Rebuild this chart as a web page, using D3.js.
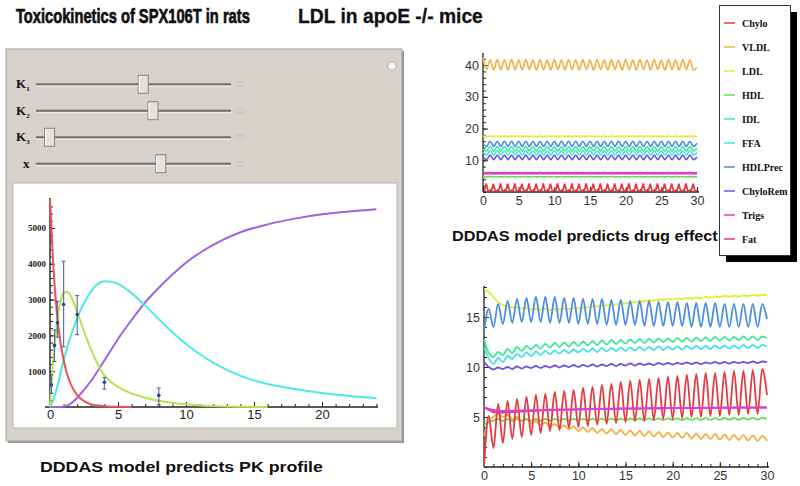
<!DOCTYPE html>
<html><head><meta charset="utf-8">
<script src="https://cdn.jsdelivr.net/npm/d3@7"></script>
<style>html,body{margin:0;padding:0;background:#fff;} svg{display:block;}</style>
</head><body>
<svg id="c" width="800" height="486"></svg>
<script>
// ---------------- DATA ----------------
// Left panel: PK profile
const pkTime   = [0, 0.25, 0.5, 0.75, 1, 1.25, 1.5, 2, 2.5, 3, 3.5, 4, 4.5, 5, 6, 7, 8, 9, 10, 11, 12, 14, 16, 18, 20, 22, 24];
const pkRed    = [5800, 3900, 2650, 1850, 1320, 930, 660, 330, 165, 80, 40, 20, 10, 5, 0, null, null, null, null, null, null, null, null, null, null, null, null];
const pkGreen  = [0, 1350, 2300, 2900, 3180, 3220, 3120, 2650, 2120, 1620, 1200, 880, 700, 560, 380, 260, 175, 115, 75, 45, 28, 8, 0, null, null, null, null];
const pkCyan   = [0, 200, 520, 900, 1300, 1650, 1950, 2480, 2900, 3220, 3430, 3510, 3500, 3440, 3180, 2830, 2450, 2090, 1760, 1480, 1240, 870, 640, 500, 390, 310, 250];
const pkPurple = [0, 0, 0, 0, 10, 40, 90, 260, 480, 720, 1000, 1300, 1600, 1900, 2430, 2920, 3330, 3700, 4030, 4300, 4530, 4880, 5100, 5260, 5380, 5460, 5520];
const pkObsTime = [0.1, 0.33, 0.55, 1, 2, 4, 8];
const pkObsMean = [620, 1720, 2350, 2860, 2580, 690, 330];
const pkObsLow  = [380, 1270, 1950, 1680, 2020, 500, 60];
const pkObsHigh = [900, 2150, 2950, 4070, 3110, 820, 530];
const pkXTicks = [0, 5, 10, 15, 20];
const pkYTicks = [1000, 2000, 3000, 4000, 5000];

const sliderNames  = ["K", "K", "K", "x"];
const sliderSubs   = ["1", "2", "3", ""];
const sliderValues = [0.55, 0.60, 0.07, 0.64];

// Legend series
const seriesNames = ["Chylo", "VLDL", "LDL", "HDL", "IDL", "FFA", "HDLPrec", "ChyloRem", "Trigs", "Fat"];

// Top-right chart (steady state), values at t = 0, 0.5, 1, ... 30
const topVLDL = [42.4,
 38.6,41.6, 38.5,41.7, 38.6,41.6, 38.5,41.7, 38.6,41.6,
 38.5,41.7, 38.6,41.6, 38.5,41.7, 38.6,41.6, 38.5,41.7,
 38.6,41.6, 38.5,41.7, 38.6,41.6, 38.5,41.7, 38.6,41.6,
 38.5,41.7, 38.6,41.6, 38.5,41.7, 38.6,41.6, 38.5,41.7,
 38.6,41.6, 38.5,41.7, 38.6,41.6, 38.5,41.7, 38.6,41.6,
 38.5,41.7, 38.6,41.6, 38.5,41.7, 38.6,41.6, 38.5,39.2];
const topLDL = [17.7,
 17.45,17.6, 17.45,17.6, 17.45,17.6, 17.45,17.6, 17.45,17.6,
 17.45,17.6, 17.45,17.6, 17.45,17.6, 17.45,17.6, 17.45,17.6,
 17.45,17.6, 17.45,17.6, 17.45,17.6, 17.45,17.6, 17.45,17.6,
 17.45,17.6, 17.45,17.6, 17.45,17.6, 17.45,17.6, 17.45,17.6,
 17.45,17.6, 17.45,17.6, 17.45,17.6, 17.45,17.6, 17.45,17.6,
 17.45,17.6, 17.45,17.6, 17.45,17.6, 17.45,17.6, 17.45,17.6];
const topHDLPrec = [15.2,
 14.4,16.0, 14.4,16.0, 14.4,16.0, 14.4,16.0, 14.4,16.0,
 14.4,16.0, 14.4,16.0, 14.4,16.0, 14.4,16.0, 14.4,16.0,
 14.4,16.0, 14.4,16.0, 14.4,16.0, 14.4,16.0, 14.4,16.0,
 14.4,16.0, 14.4,16.0, 14.4,16.0, 14.4,16.0, 14.4,16.0,
 14.4,16.0, 14.4,16.0, 14.4,16.0, 14.4,16.0, 14.4,16.0,
 14.4,16.0, 14.4,16.0, 14.4,16.0, 14.4,16.0, 14.4,15.4];
const topIDL = [13.6,
 12.9,14.3, 12.9,14.3, 12.9,14.3, 12.9,14.3, 12.9,14.3,
 12.9,14.3, 12.9,14.3, 12.9,14.3, 12.9,14.3, 12.9,14.3,
 12.9,14.3, 12.9,14.3, 12.9,14.3, 12.9,14.3, 12.9,14.3,
 12.9,14.3, 12.9,14.3, 12.9,14.3, 12.9,14.3, 12.9,14.3,
 12.9,14.3, 12.9,14.3, 12.9,14.3, 12.9,14.3, 12.9,14.3,
 12.9,14.3, 12.9,14.3, 12.9,14.3, 12.9,14.3, 12.9,13.8];
const topFFA = [12.4,
 11.7,13.0, 11.7,13.0, 11.7,13.0, 11.7,13.0, 11.7,13.0,
 11.7,13.0, 11.7,13.0, 11.7,13.0, 11.7,13.0, 11.7,13.0,
 11.7,13.0, 11.7,13.0, 11.7,13.0, 11.7,13.0, 11.7,13.0,
 11.7,13.0, 11.7,13.0, 11.7,13.0, 11.7,13.0, 11.7,13.0,
 11.7,13.0, 11.7,13.0, 11.7,13.0, 11.7,13.0, 11.7,13.0,
 11.7,13.0, 11.7,13.0, 11.7,13.0, 11.7,13.0, 11.7,12.5];
const topChyloRem = [11.0,
 10.2,11.6, 10.2,11.6, 10.2,11.6, 10.2,11.6, 10.2,11.6,
 10.2,11.6, 10.2,11.6, 10.2,11.6, 10.2,11.6, 10.2,11.6,
 10.2,11.6, 10.2,11.6, 10.2,11.6, 10.2,11.6, 10.2,11.6,
 10.2,11.6, 10.2,11.6, 10.2,11.6, 10.2,11.6, 10.2,11.6,
 10.2,11.6, 10.2,11.6, 10.2,11.6, 10.2,11.6, 10.2,11.6,
 10.2,11.6, 10.2,11.6, 10.2,11.6, 10.2,11.6, 10.2,11.0];
const topTrigs = [6.0,
 5.98,6.04, 5.98,6.04, 5.98,6.04, 5.98,6.04, 5.98,6.04,
 5.98,6.04, 5.98,6.04, 5.98,6.04, 5.98,6.04, 5.98,6.04,
 5.98,6.04, 5.98,6.04, 5.98,6.04, 5.98,6.04, 5.98,6.04,
 5.98,6.04, 5.98,6.04, 5.98,6.04, 5.98,6.04, 5.98,6.04,
 5.98,6.04, 5.98,6.04, 5.98,6.04, 5.98,6.04, 5.98,6.04,
 5.98,6.04, 5.98,6.04, 5.98,6.04, 5.98,6.04, 5.98,6.04];
const topFat = [5.8,
 5.76,5.82, 5.76,5.82, 5.76,5.82, 5.76,5.82, 5.76,5.82,
 5.76,5.82, 5.76,5.82, 5.76,5.82, 5.76,5.82, 5.76,5.82,
 5.76,5.82, 5.76,5.82, 5.76,5.82, 5.76,5.82, 5.76,5.82,
 5.76,5.82, 5.76,5.82, 5.76,5.82, 5.76,5.82, 5.76,5.82,
 5.76,5.82, 5.76,5.82, 5.76,5.82, 5.76,5.82, 5.76,5.82,
 5.76,5.82, 5.76,5.82, 5.76,5.82, 5.76,5.82, 5.76,5.82];
const topHDL = [4.7,
 4.76,4.86, 4.76,4.86, 4.76,4.86, 4.76,4.86, 4.76,4.86,
 4.76,4.86, 4.76,4.86, 4.76,4.86, 4.76,4.86, 4.76,4.86,
 4.76,4.86, 4.76,4.86, 4.76,4.86, 4.76,4.86, 4.76,4.86,
 4.76,4.86, 4.76,4.86, 4.76,4.86, 4.76,4.86, 4.76,4.86,
 4.76,4.86, 4.76,4.86, 4.76,4.86, 4.76,4.86, 4.76,4.86,
 4.76,4.86, 4.76,4.86, 4.76,4.86, 4.76,4.86, 4.76,4.86];
// Chylo spikes, one per day
const topChyloPeak = [2.7, 2.6, 2.7, 2.6, 2.7, 2.6, 2.7, 2.6, 2.7, 2.6, 2.7, 2.6, 2.7, 2.6, 2.7,
                      2.6, 2.7, 2.6, 2.7, 2.6, 2.7, 2.6, 2.7, 2.6, 2.7, 2.6, 2.7, 2.6, 2.7, 2.6];
const topChyloBase = [0.35, 0.4, 0.35, 0.4, 0.35, 0.4, 0.35, 0.4, 0.35, 0.4, 0.35, 0.4, 0.35, 0.4, 0.35,
                      0.4, 0.35, 0.4, 0.35, 0.4, 0.35, 0.4, 0.35, 0.4, 0.35, 0.4, 0.35, 0.4, 0.35, 0.4];

// Bottom-right chart (drug effect), values at t = 0, 0.5, 1, ... 30
const botChylo = [0.0,
 5.1,1.9, 6.3,2.4, 6.6,2.8, 6.8,3.0, 7.0,3.2,
 7.2,3.4, 7.3,3.6, 7.5,3.7, 7.6,3.9, 7.7,4.0,
 7.9,4.1, 8.0,4.2, 8.2,4.3, 8.3,4.4, 8.5,4.5,
 8.6,4.6, 8.7,4.6, 8.8,4.7, 8.9,4.8, 9.0,4.8,
 9.1,4.9, 9.2,5.0, 9.3,5.0, 9.4,5.1, 9.4,5.1,
 9.5,5.2, 9.6,5.2, 9.6,5.3, 9.7,5.3, 9.8,7.2];
const botHDLPrec = [13.6,
 15.8,14.0, 16.3,14.3, 16.6,14.4, 16.8,14.5, 16.9,14.5,
 17.0,14.5, 17.0,14.4, 17.0,14.4, 16.9,14.4, 16.9,14.3,
 16.8,14.3, 16.8,14.3, 16.8,14.2, 16.7,14.2, 16.7,14.2,
 16.6,14.2, 16.6,14.1, 16.6,14.1, 16.5,14.1, 16.5,14.1,
 16.5,14.1, 16.4,14.0, 16.4,14.0, 16.4,14.0, 16.4,14.0,
 16.3,14.0, 16.3,14.0, 16.3,14.0, 16.3,14.0, 16.3,14.8];
const botLDL = [17.8, 17.5, 17.0, 16.5, 16.2, 16.1, 15.95, 16.0, 15.85, 15.9,
 15.75, 15.8, 15.7, 15.8, 15.7, 15.8, 15.75, 15.85, 15.8, 15.9,
 15.85, 15.95, 15.95, 16.05, 16.05, 16.15, 16.15, 16.25, 16.25, 16.35,
 16.35, 16.45, 16.45, 16.55, 16.55, 16.65, 16.65, 16.75, 16.7, 16.8,
 16.75, 16.85, 16.8, 16.9, 16.85, 16.95, 16.9, 17.0, 16.95, 17.05,
 17.0, 17.1, 17.05, 17.1, 17.05, 17.15, 17.1, 17.2, 17.15, 17.2,
 17.2];
const botIDL = [12.8, 11.4,
 11.0, 11.5, 11.2, 11.8, 11.4, 12.0, 11.6, 12.1, 11.75, 12.2,
 11.85, 12.3, 11.95, 12.4, 12.0, 12.45, 12.05, 12.5, 12.1, 12.55,
 12.15, 12.6, 12.2, 12.65, 12.25, 12.7, 12.3, 12.7, 12.35, 12.75,
 12.4, 12.8, 12.4, 12.8, 12.45, 12.85, 12.5, 12.85, 12.5, 12.9,
 12.55, 12.9, 12.55, 12.95, 12.6, 12.95, 12.6, 13.0, 12.65, 13.0,
 12.65, 13.0, 12.7, 13.05, 12.7, 13.05, 12.7, 13.05, 12.9];
const botFFA = [12.0, 10.9,
 10.3, 10.9, 10.5, 11.1, 10.8, 11.3, 11.0, 11.45, 11.1, 11.55,
 11.2, 11.6, 11.3, 11.65, 11.35, 11.7, 11.4, 11.75, 11.45, 11.8,
 11.5, 11.85, 11.5, 11.9, 11.55, 11.9, 11.6, 11.95, 11.6, 11.95,
 11.65, 12.0, 11.65, 12.0, 11.7, 12.05, 11.7, 12.05, 11.75, 12.05,
 11.75, 12.1, 11.8, 12.1, 11.8, 12.1, 11.8, 12.15, 11.85, 12.15,
 11.85, 12.15, 11.85, 12.2, 11.9, 12.2, 11.9, 12.2, 12.05];
const botChyloRem = [10.5, 10.0,
 9.75, 9.95, 9.8, 10.0, 9.8, 10.05, 9.85, 10.05, 9.9, 10.1,
 9.9, 10.1, 9.95, 10.15, 9.95, 10.15, 10.0, 10.2, 10.0, 10.2,
 10.05, 10.25, 10.05, 10.25, 10.1, 10.3, 10.1, 10.3, 10.15, 10.35,
 10.15, 10.35, 10.2, 10.35, 10.2, 10.4, 10.25, 10.4, 10.25, 10.4,
 10.3, 10.45, 10.3, 10.45, 10.3, 10.45, 10.35, 10.5, 10.35, 10.5,
 10.35, 10.5, 10.4, 10.5, 10.4, 10.55, 10.4, 10.55, 10.5];
const botTrigs = [6.0, 5.8, 5.7, 5.65, 5.6, 5.6, 5.62, 5.63, 5.65, 5.66,
 5.68, 5.69, 5.7, 5.71, 5.72, 5.73, 5.74, 5.75, 5.76, 5.77,
 5.78, 5.78, 5.79, 5.8, 5.8, 5.81, 5.82, 5.82, 5.83, 5.84,
 5.84, 5.85, 5.85, 5.86, 5.86, 5.87, 5.87, 5.88, 5.88, 5.89,
 5.89, 5.9, 5.9, 5.9, 5.91, 5.91, 5.91, 5.92, 5.92, 5.92,
 5.93, 5.93, 5.93, 5.94, 5.94, 5.94, 5.94, 5.95, 5.95, 5.95,
 5.95];
const botFat = [6.0, 5.7, 5.5, 5.45, 5.45, 5.47, 5.5, 5.52, 5.55, 5.57,
 5.6, 5.62, 5.64, 5.66, 5.68, 5.7, 5.71, 5.72, 5.74, 5.75,
 5.76, 5.77, 5.78, 5.79, 5.8, 5.8, 5.81, 5.82, 5.82, 5.83,
 5.84, 5.84, 5.85, 5.85, 5.86, 5.86, 5.87, 5.87, 5.88, 5.88,
 5.89, 5.89, 5.9, 5.9, 5.9, 5.91, 5.91, 5.91, 5.92, 5.92,
 5.92, 5.93, 5.93, 5.93, 5.94, 5.94, 5.94, 5.94, 5.95, 5.95,
 5.95];
const botHDL = [4.2, 4.5, 4.65, 4.8, 4.6, 4.78, 4.6, 4.78, 4.62, 4.8,
 4.62, 4.8, 4.63, 4.8, 4.63, 4.81, 4.64, 4.81, 4.64, 4.82,
 4.65, 4.82, 4.65, 4.83, 4.66, 4.83, 4.66, 4.84, 4.67, 4.84,
 4.67, 4.85, 4.68, 4.85, 4.68, 4.86, 4.69, 4.86, 4.69, 4.87,
 4.7, 4.87, 4.7, 4.88, 4.71, 4.88, 4.71, 4.89, 4.72, 4.89,
 4.72, 4.9, 4.73, 4.9, 4.73, 4.9, 4.74, 4.91, 4.74, 4.91,
 4.8];
const botVLDL = [3.0, 4.6, 5.0, 5.35, 5.0, 5.2, 4.8, 5.0, 4.6, 4.8,
 4.35, 4.6, 4.2, 4.45, 4.05, 4.3, 3.9, 4.15, 3.75, 4.05,
 3.6, 3.95, 3.5, 3.9, 3.4, 3.8, 3.35, 3.75, 3.3, 3.7,
 3.2, 3.65, 3.15, 3.6, 3.1, 3.55, 3.05, 3.5, 3.0, 3.45,
 2.95, 3.4, 2.9, 3.4, 2.85, 3.35, 2.8, 3.3, 2.8, 3.3,
 2.75, 3.25, 2.7, 3.2, 2.7, 3.2, 2.65, 3.15, 2.6, 3.1,
 2.6];

// ---------------- STYLE ----------------
const colors = {
  Chylo: "#e8383e", VLDL: "#f0b246", LDL: "#e2ec3a", HDL: "#66dc55", IDL: "#3fe896",
  FFA: "#46e2e6", HDLPrec: "#4a8de0", ChyloRem: "#6658e0", Trigs: "#d83ed8", Fat: "#e83c7a"
};
const pkColors = { red: "#e8525a", green: "#b6e24e", cyan: "#4ee8ea", purple: "#a062e2", obs: "#4a5aa6" };

const svg = d3.select("#c");
const SANS = "'Liberation Sans', Arial, sans-serif";
const SERIF = "'Liberation Serif', 'Times New Roman', serif";

// ---------------- TITLES ----------------
function title(txt, x, y, size, len, heavy) {
  const t = svg.append("text").attr("x", 0).attr("y", 0).text(txt)
    .attr("font-family", SANS).attr("font-weight", "bold").attr("font-size", size)
    .attr("fill", "#111");
  if (heavy) t.attr("stroke", "#111").attr("stroke-width", heavy);
  const natural = t.node().getComputedTextLength();
  t.attr("transform", `translate(${x},${y}) scale(${len / natural},1)`);
}
title("Toxicokinetics of SPX106T in rats", 16, 23, 20, 234, 0.7);
title("LDL in apoE -/- mice", 298, 23, 20, 185, 0.3);
title("DDDAS model predicts PK profile", 40, 472, 15, 283, 0);
title("DDDAS model predicts drug effect", 452, 241, 14, 266, 0);

// ---------------- LEFT PANEL ----------------
svg.append("rect").attr("x", 8).attr("y", 51).attr("width", 396).attr("height", 392).attr("fill", "#9a968f");
svg.append("rect").attr("x", 6).attr("y", 49).attr("width", 396).attr("height", 392)
  .attr("fill", "#d6d1ca").attr("stroke", "#a9a59f").attr("stroke-width", 1);
// plus icon
svg.append("circle").attr("cx", 392).attr("cy", 66).attr("r", 4.5).attr("fill", "#ecebe8").attr("stroke", "#b5b2ad");
svg.append("path").attr("d", "M389.5,66H394.5M392,63.5V68.5").attr("stroke", "#fff").attr("stroke-width", 1.2);

// sliders
const sliderY = d3.scaleBand().domain(d3.range(sliderNames.length)).range([71, 177]);
const sliderX = d3.scaleLinear().domain([0, 1]).range([36, 231]);
sliderNames.forEach((n, i) => {
  const yc = sliderY(i) + sliderY.bandwidth() / 2;
  const t = svg.append("text").attr("x", n === "x" ? 23 : 16).attr("y", yc + 4)
    .attr("font-family", SERIF).attr("font-weight", "bold").attr("font-size", 13).attr("fill", "#111").text(n);
  if (sliderSubs[i]) t.append("tspan").attr("font-size", 7).attr("dy", 3).text(sliderSubs[i]);
  svg.append("line").attr("x1", sliderX(0)).attr("x2", sliderX(1)).attr("y1", yc).attr("y2", yc)
    .attr("stroke", "#6f6f6f").attr("stroke-width", 2.2);
  svg.append("line").attr("x1", sliderX(0)).attr("x2", sliderX(1)).attr("y1", yc + 2).attr("y2", yc + 2)
    .attr("stroke", "#f3f2f0").attr("stroke-width", 1);
  const cx = sliderX(sliderValues[i]);
  svg.append("rect").attr("x", cx - 5).attr("y", yc - 9).attr("width", 10).attr("height", 18)
    .attr("fill", "#e4e1dc").attr("stroke", "#7c7974").attr("stroke-width", 0.9);
  svg.append("line").attr("x1", cx - 4).attr("x2", cx - 4).attr("y1", yc - 8).attr("y2", yc + 8)
    .attr("stroke", "#fff").attr("stroke-width", 1);
  svg.append("rect").attr("x", 238).attr("y", yc - 2).attr("width", 4).attr("height", 4)
    .attr("fill", "#dcd8d2").attr("stroke", "#b9b5af").attr("stroke-width", 0.8);
});

// plot box
svg.append("rect").attr("x", 13).attr("y", 183).attr("width", 384).attr("height", 245)
  .attr("fill", "#fff").attr("stroke", "#b7b3ad").attr("stroke-width", 1);

// PK chart
const px = d3.scaleLinear().domain([0, 24]).range([50, 376.4]);
const py = d3.scaleLinear().domain([0, 5780]).range([407, 200]);
const pk = svg.append("g");

function styleAxis(g, fontFamily, size, weight, color) {
  g.attr("font-family", fontFamily).attr("font-size", size).attr("font-weight", weight);
  g.selectAll(".tick line").attr("stroke", "#222").attr("stroke-width", 1);
  g.selectAll(".tick text").attr("fill", color);
  g.select(".domain").remove();
}
pk.append("g").attr("transform", "translate(0,407)")
  .call(d3.axisBottom(px).tickValues(d3.range(0, 25, 1)).tickSize(-3).tickFormat(""))
  .call(g => styleAxis(g, SANS, 13, "normal", "#222"));
pk.append("g").attr("transform", "translate(0,407)")
  .call(d3.axisBottom(px).tickValues(pkXTicks).tickSize(-5).tickPadding(3))
  .call(g => styleAxis(g, SANS, 13, "normal", "#222"));
pk.append("g").attr("transform", "translate(50,0)")
  .call(d3.axisLeft(py).tickValues(d3.range(0, 5800, 200)).tickSize(-3).tickFormat(""))
  .call(g => styleAxis(g, SERIF, 9, "bold", "#222"));
pk.append("g").attr("transform", "translate(50,0)")
  .call(d3.axisLeft(py).tickValues(pkYTicks).tickSize(-5).tickPadding(4).tickFormat(d3.format("d")))
  .call(g => styleAxis(g, SERIF, 9, "bold", "#222"));
pk.append("line").attr("x1", 45).attr("x2", 378).attr("y1", 407).attr("y2", 407).attr("stroke", "#222").attr("stroke-width", 1.4);
pk.append("line").attr("x1", 50).attr("x2", 50).attr("y1", 198).attr("y2", 407).attr("stroke", "#222").attr("stroke-width", 1.4);

const pkLine = d3.line().defined(d => d[1] != null).x(d => px(d[0])).y(d => py(d[1])).curve(d3.curveMonotoneX);
[[pkPurple, pkColors.purple], [pkCyan, pkColors.cyan], [pkGreen, pkColors.green], [pkRed, pkColors.red]].forEach(([vals, col]) => {
  pk.append("path").attr("d", pkLine(pkTime.map((t, i) => [t, vals[i]])))
    .attr("fill", "none").attr("stroke", col).attr("stroke-width", 2);
});
pkObsTime.forEach((t, i) => {
  const xx = px(t);
  pk.append("line").attr("x1", xx).attr("x2", xx).attr("y1", py(pkObsLow[i])).attr("y2", py(pkObsHigh[i]))
    .attr("stroke", pkColors.obs).attr("stroke-width", 1.2).attr("opacity", 0.85);
  [pkObsLow[i], pkObsHigh[i]].forEach(v => pk.append("line").attr("x1", xx - 2).attr("x2", xx + 2)
    .attr("y1", py(v)).attr("y2", py(v)).attr("stroke", pkColors.obs).attr("stroke-width", 1));
  pk.append("circle").attr("cx", xx).attr("cy", py(pkObsMean[i])).attr("r", 1.8).attr("fill", "#33408e");
});

// ---------------- RIGHT CHARTS ----------------
const halfDays = d3.range(0, 30.001, 0.5);
function rightAxes(g, x, y, yMinor, yMajor, x0, y0, yTop) {
  g.append("g").attr("transform", `translate(0,${y0})`)
    .call(d3.axisBottom(x).tickValues(d3.range(0, 31, 1)).tickSize(-3).tickFormat(""))
    .call(a => styleAxis(a, SANS, 12.5, "normal", "#333"));
  g.append("g").attr("transform", `translate(0,${y0})`)
    .call(d3.axisBottom(x).tickValues(d3.range(0, 31, 5)).tickSize(-5).tickPadding(4))
    .call(a => styleAxis(a, SANS, 12.5, "normal", "#333"));
  g.append("g").attr("transform", `translate(${x0},0)`)
    .call(d3.axisLeft(y).tickValues(yMinor).tickSize(-3).tickFormat(""))
    .call(a => styleAxis(a, SANS, 12.5, "normal", "#333"));
  g.append("g").attr("transform", `translate(${x0},0)`)
    .call(d3.axisLeft(y).tickValues(yMajor).tickSize(-5).tickPadding(4))
    .call(a => styleAxis(a, SANS, 12.5, "normal", "#333"));
  g.append("line").attr("x1", x0).attr("x2", x(30) + 2).attr("y1", y0).attr("y2", y0).attr("stroke", "#222").attr("stroke-width", 1.3);
  g.append("line").attr("x1", x0).attr("x2", x0).attr("y1", yTop).attr("y2", y0).attr("stroke", "#222").attr("stroke-width", 1.3);
}

// top chart
const tx = d3.scaleLinear().domain([0, 30]).range([483, 697]);
const ty = d3.scaleLinear().domain([0, 43.5]).range([192, 54]);
const topG = svg.append("g");
rightAxes(topG, tx, ty, d3.range(0, 44, 2), [10, 20, 30, 40], 483, 192, 53);
const lineS = (x, y) => d3.line().x(d => x(d[0])).y(d => y(d[1])).curve(d3.curveMonotoneX);
const topSeries = [["Fat", topFat], ["HDL", topHDL], ["Trigs", topTrigs], ["LDL", topLDL], ["VLDL", topVLDL],
  ["ChyloRem", topChyloRem], ["FFA", topFFA], ["IDL", topIDL], ["HDLPrec", topHDLPrec]];
topSeries.forEach(([n, vals]) => {
  topG.append("path").attr("d", lineS(tx, ty)(halfDays.map((t, i) => [t, vals[i]])))
    .attr("fill", "none").attr("stroke", colors[n]).attr("stroke-width", n === "Trigs" ? 2.2 : 1.7);
});
const chyloPts = [];
topChyloPeak.forEach((p, k) => {
  chyloPts.push([k + 0.2, topChyloBase[k]], [k + 0.45, p], [k + 0.7, topChyloBase[k]]);
});
chyloPts.push([30, topChyloBase[29]]);
topG.append("path").attr("d", d3.line().x(d => tx(d[0])).y(d => ty(d[1]))(chyloPts))
  .attr("fill", "none").attr("stroke", colors.Chylo).attr("stroke-width", 1.7).attr("stroke-linejoin", "miter");

// bottom chart
const bx = d3.scaleLinear().domain([0, 30]).range([484, 767]);
const by = d3.scaleLinear().domain([0, 18]).range([467, 287]);
const botG = svg.append("g");
rightAxes(botG, bx, by, d3.range(0, 18.01, 1), [5, 10, 15], 484, 467, 286);
const botSeries = [["LDL", botLDL], ["VLDL", botVLDL], ["HDL", botHDL], ["ChyloRem", botChyloRem], ["FFA", botFFA],
  ["IDL", botIDL], ["HDLPrec", botHDLPrec], ["Chylo", botChylo], ["Fat", botFat], ["Trigs", botTrigs]];
svg.append("clipPath").attr("id", "bclip").append("rect")
  .attr("x", 484).attr("y", 280).attr("width", 290).attr("height", 187);
botSeries.forEach(([n, vals]) => {
  botG.append("path").attr("clip-path", "url(#bclip)")
    .attr("d", lineS(bx, by)(halfDays.map((t, i) => [t, vals[i]])))
    .attr("fill", "none").attr("stroke", colors[n]).attr("stroke-width", n === "Trigs" ? 2 : 1.8);
});

// ---------------- LEGEND ----------------
const lg = svg.append("g");
lg.append("rect").attr("x", 726).attr("y", 12).attr("width", 71).attr("height", 250).attr("fill", "#000");
lg.append("rect").attr("x", 719.5).attr("y", 5.5).attr("width", 71).attr("height", 250)
  .attr("fill", "#fff").attr("stroke", "#333").attr("stroke-width", 1);
const ly = d3.scalePoint().domain(seriesNames).range([23, 239]);
seriesNames.forEach(n => {
  lg.append("line").attr("x1", 724).attr("x2", 735).attr("y1", ly(n)).attr("y2", ly(n))
    .attr("stroke", colors[n]).attr("stroke-width", 1.5);
  lg.append("text").attr("x", 742).attr("y", ly(n) + 3.5).text(n)
    .attr("font-family", SERIF).attr("font-weight", "bold").attr("font-size", 10).attr("fill", "#111");
});
</script></body></html>
